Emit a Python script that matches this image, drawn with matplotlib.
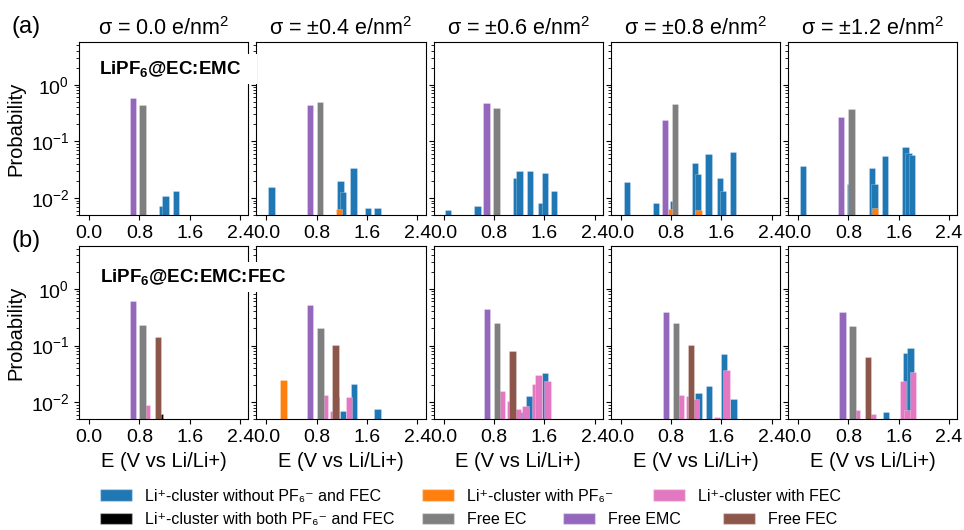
import matplotlib
matplotlib.use('Agg')
import matplotlib.pyplot as plt
from matplotlib.patches import Patch

plt.rcParams['font.family'] = ['Liberation Sans', 'DejaVu Sans']
plt.rcParams['mathtext.fontset'] = 'custom'
plt.rcParams['mathtext.rm'] = 'Liberation Sans'
plt.rcParams['mathtext.it'] = 'Liberation Sans:italic'
plt.rcParams['mathtext.bf'] = 'Liberation Sans:bold'

sigma = ['0.0', '±0.4', '±0.6', '±0.8', '±1.2']
xticks = [0.0, 0.8, 1.6, 2.4]
xticklabels = ['0.0', '0.8', '1.6', '2.4']

# (a) LiPF6@EC:EMC -- one inner list per surface charge
a_clus_E = [[1.16, 1.215, 1.385],
            [0.08, 1.18, 1.213, 1.387, 1.613, 1.768],
            [0.07, 0.54, 1.16, 1.205, 1.376, 1.554, 1.608, 1.757],
            [0.093, 0.563, 0.835, 1.18, 1.224, 1.395, 1.576, 1.624, 1.779],
            [0.077, 0.83, 1.176, 1.213, 1.384, 1.709, 1.757, 1.81]]
a_clus_p = [[0.0072, 0.0108, 0.0131],
            [0.0158, 0.020, 0.013, 0.034, 0.0067, 0.0067],
            [0.0061, 0.0072, 0.023, 0.030, 0.030, 0.0080, 0.028, 0.0134],
            [0.0194, 0.0080, 0.0088, 0.041, 0.027, 0.060, 0.023, 0.0135, 0.064],
            [0.037, 0.0177, 0.034, 0.0177, 0.055, 0.080, 0.062, 0.057]]
a_pf6_E = [[], [1.16], [], [0.80, 1.235], [1.224]]
a_pf6_p = [[], [0.0064], [], [0.0063, 0.0061], [0.0067]]
a_ec_E = [[0.85], [0.853], [0.843], [0.864], [0.85]]
a_ec_p = [[0.43], [0.50], [0.38], [0.46], [0.376]]
a_emc_E = [[0.693], [0.693], [0.68], [0.70], [0.688]]
a_emc_p = [[0.58], [0.43], [0.48], [0.24], [0.27]]

# (b) LiPF6@EC:EMC:FEC
b_clus_E = [[], [1.216, 1.392, 1.768], [1.23, 1.365, 1.611],
            [1.235, 1.405, 1.64, 1.789], [1.399, 1.725, 1.787]]
b_clus_p = [[], [0.0071, 0.0206, 0.0076], [0.0068, 0.0126, 0.033],
            [0.0146, 0.0192, 0.070, 0.0115], [0.0067, 0.0746, 0.092]]
b_pf6_E = [[], [0.272], [], [], []]
b_pf6_p = [[], [0.0243], [], [], []]
b_fec_E = [[0.92], [0.93, 1.064, 1.312],
           [0.93, 1.053, 1.184, 1.304, 1.453, 1.507, 1.65],
           [0.952, 1.085, 1.197, 1.53, 1.68],
           [0.941, 1.187, 1.667, 1.74, 1.829]]
b_fec_p = [[0.0090], [0.0136, 0.0071, 0.0123],
           [0.016, 0.0106, 0.0076, 0.0086, 0.0206, 0.030, 0.024],
           [0.0136, 0.0130, 0.0113, 0.0055, 0.0368],
           [0.0073, 0.0061, 0.0236, 0.0072, 0.0344]]
b_both_E = [[1.128], [1.112], [], [], []]
b_both_p = [[0.0062], [0.0121], [], [], []]
b_ec_E = [[0.85], [0.859], [0.853], [0.877], [0.867]]
b_ec_p = [[0.233], [0.20], [0.246], [0.253], [0.224]]
b_emc_E = [[0.693], [0.699], [0.688], [0.715], [0.707]]
b_emc_p = [[0.60], [0.51], [0.45], [0.39], [0.384]]
b_ffec_E = [[1.093], [1.099], [1.093], [1.117], [1.109]]
b_ffec_p = [[0.143], [0.103], [0.080], [0.101], [0.062]]

c_clus, c_pf6, c_fec, c_both = '#1f77b4', '#ff7f0e', '#e377c2', 'black'
c_ec, c_emc, c_ffec = '#7f7f7f', '#9467bd', '#8c564b'

rows = [
    [(a_clus_E, a_clus_p, c_clus), (a_pf6_E, a_pf6_p, c_pf6),
     (a_ec_E, a_ec_p, c_ec), (a_emc_E, a_emc_p, c_emc)],
    [(b_clus_E, b_clus_p, c_clus), (b_pf6_E, b_pf6_p, c_pf6),
     (b_fec_E, b_fec_p, c_fec), (b_both_E, b_both_p, c_both),
     (b_ec_E, b_ec_p, c_ec), (b_emc_E, b_emc_p, c_emc),
     (b_ffec_E, b_ffec_p, c_ffec)],
]
edge = (1, 1, 1, 0.35)

fig, axes = plt.subplots(2, 5, figsize=(9.64, 5.30), dpi=100, sharey=True)
fig.subplots_adjust(left=0.082, right=0.993, top=0.921, bottom=0.209,
                    wspace=0.047, hspace=0.179)

for r, row in enumerate(rows):
    for i in range(5):
        ax = axes[r, i]
        ax.set_yscale('log')
        for E, P, c in row:
            ax.bar(E[i], P[i], width=0.1, color=c, edgecolor=edge,
                   linewidth=0.5, zorder=2)
        ax.set_xlim(-0.16, 2.53)
        ax.set_ylim(0.005, 5.7)
        ax.set_xticks(xticks)
        ax.set_xticklabels(xticklabels)
        ax.tick_params(labelsize=14)
        if r == 0:
            ax.set_title('σ = %s e/nm$^2$' % sigma[i], fontsize=15.5, pad=5)
        else:
            ax.set_xlabel('E (V vs Li/Li+)', fontsize=14.5)
    axes[r, 0].set_ylabel('Probability', fontsize=14.5)

fig.text(0.012, 0.949, '(a)', fontsize=17, va='center')
fig.text(0.012, 0.545, '(b)', fontsize=17, va='center')
box = dict(facecolor='white', edgecolor='none', pad=3.5)
fig.text(0.1027, 0.870, r'LiPF$_\mathbf{6}$@EC:EMC   ', fontsize=13.5,
         fontweight='bold', va='center', bbox=box, zorder=5)
fig.text(0.1037, 0.477, r'LiPF$_\mathbf{6}$@EC:EMC:FEC   ', fontsize=13.5,
         fontweight='bold', va='center', bbox=box, zorder=5)

legend_labels = ['Li⁺-cluster without PF₆⁻ and FEC', 'Li⁺-cluster with PF₆⁻',
                 'Li⁺-cluster with FEC', 'Li⁺-cluster with both PF₆⁻ and FEC',
                 'Free EC', 'Free EMC', 'Free FEC']
legend_colors = [c_clus, c_pf6, c_fec, c_both, c_ec, c_emc, c_ffec]
# handle left edge (x) and row centre (y), figure fraction
legend_x = [0.1037, 0.4378, 0.6774, 0.1037, 0.4378, 0.5840, 0.7500]
legend_y = [0.064, 0.064, 0.064, 0.020, 0.020, 0.020, 0.020]
for lab, c, x, y in zip(legend_labels, legend_colors, legend_x, legend_y):
    fig.legend([Patch(facecolor=c, edgecolor=edge)], [lab], loc='center left',
               bbox_to_anchor=(x, y), frameon=False, fontsize=11.5,
               borderpad=0, borderaxespad=0, handletextpad=0.8)

fig.savefig('out.png', dpi=100)
